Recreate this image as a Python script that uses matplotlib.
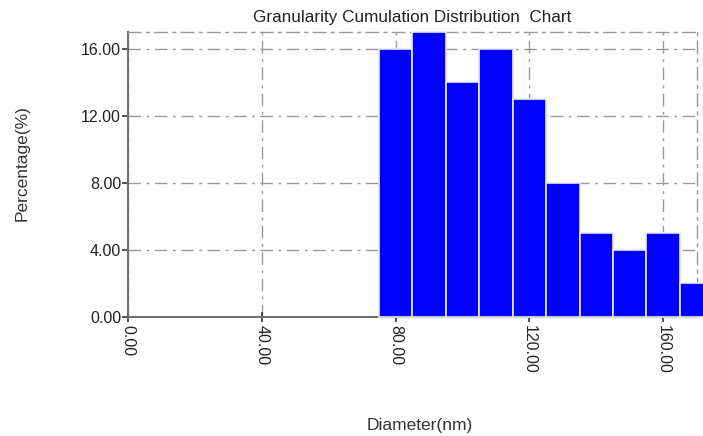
import numpy as np
import matplotlib.pyplot as plt
from matplotlib import rcParams

rcParams["font.family"] = ["Liberation Sans", "DejaVu Sans"]

# particle size histogram, 10 nm bins
binLeft = [75, 85, 95, 105, 115, 125, 135, 145, 155, 165]
percentage = [16, 17, 14, 16, 13, 8, 5, 4, 5, 2]
binWidth = 10
xTicks = [0, 40, 80, 120, 160]
yTicks = [0, 4, 8, 12, 16]

gridColor = "#9a9a9a"
spineColor = "#707070"
dashDot = (0, (9, 4, 2, 4))

fig = plt.figure(figsize=(7.03, 4.36), dpi=100)
ax = fig.add_axes([0.182, 0.273, 0.809, 0.654])

# last bin runs past the plot border, so bars are not clipped
bars = ax.bar(binLeft, percentage, width=binWidth, align="edge", color="#0000ff",
              edgecolor="#e8e8f0", linewidth=1.2, zorder=3)
for b in bars:
    b.set_clip_on(False)

ax.set_xlim(0, 170)
ax.set_ylim(0, 17)
ax.set_xticks(xTicks)
ax.set_yticks(yTicks)
ax.set_xticklabels(["%.2f" % v for v in xTicks], rotation=-90)
ax.set_yticklabels(["%.2f" % v for v in yTicks])

ax.grid(True, color=gridColor, linestyle=dashDot, linewidth=1.0, zorder=0)
ax.set_axisbelow(True)

for side in ["left", "bottom"]:
    ax.spines[side].set_color(spineColor)
    ax.spines[side].set_linewidth(1.5)
for side in ["top", "right"]:
    ax.spines[side].set_color(gridColor)
    ax.spines[side].set_linestyle(dashDot)
    ax.spines[side].set_linewidth(1.0)

ax.tick_params(axis="x", direction="inout", length=7, width=1.2, color="#333333",
               labelsize=11.5, labelcolor="#222222", pad=2)
ax.tick_params(axis="y", direction="out", length=4, width=1.2, color="#333333",
               labelsize=11.5, labelcolor="#222222", pad=1)

ax.set_title("Granularity Cumulation Distribution  Chart", fontsize=12.3,
             color="#222222", pad=7)
fig.text(22 / 703, 0.625, "Percentage(%)", fontsize=12.5, color="#333333",
         rotation=90, ha="center", va="center")
fig.text(0.597, 0.025, "Diameter(nm)", fontsize=12.5, color="#333333",
         ha="center", va="center")

plt.savefig("out.png", dpi=100)
